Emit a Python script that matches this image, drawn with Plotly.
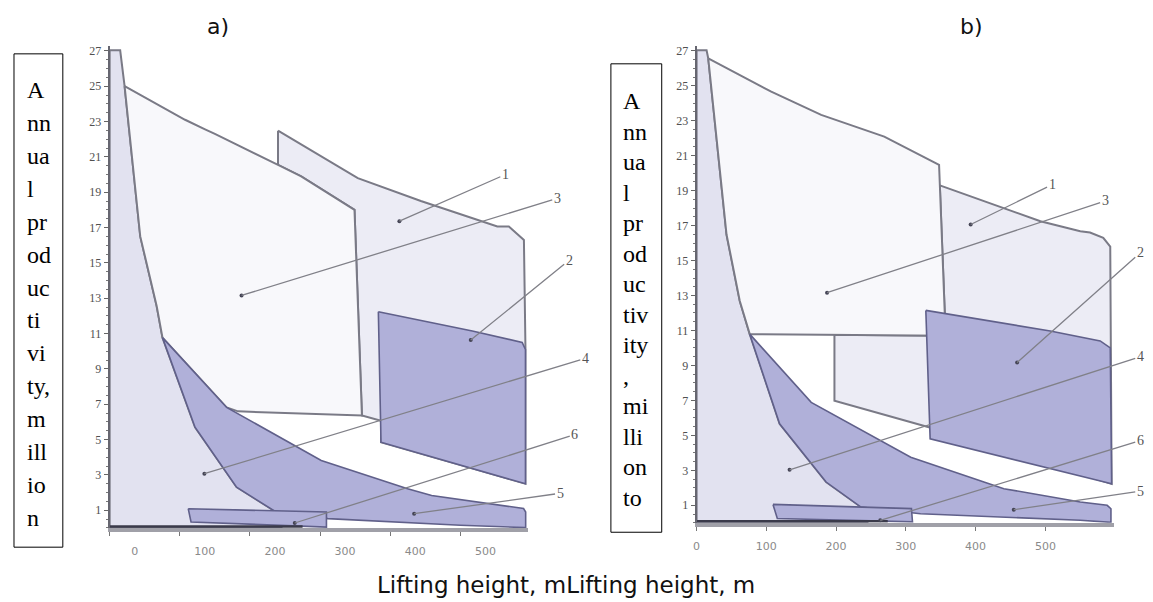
import plotly.graph_objects as go

# page body has an 8px default margin; figure sized to fit the 1153x602 window exactly
OFF = 8
W, H = 1153 - OFF, 602 - OFF

# ---------------- data: panel a ----------------
reg4_a_x = [0, 0, 15, 21.3, 43.6, 67, 75.3, 121.7, 180.9, 235, 245, 245, 0]
reg4_a_y = [0, 27.03, 27.03, 25, 16.5, 12.56, 10.77, 5.7, 2.31, 0.96, 0.9, 0, 0]

reg1_a_x = [240, 353.7, 443.6, 524, 552.6, 569, 590.5, 592.7, 592.7, 386.8, 386.8, 359.6, 349, 273, 240, 240]
reg1_a_y = [22.48, 19.8, 18.5, 17.41, 17.06, 17.06, 16.3, 10.2, 2.5, 4.85, 6.07, 6.36, 18.0, 19.9, 20.55, 22.48]

reg3_a_x = [21.3, 107.5, 136, 150, 240, 273, 349, 359.6, 183, 166.7, 75.3, 67, 43.6, 21.3]
reg3_a_y = [25, 23.1, 22.56, 22.3, 20.55, 19.9, 18.0, 6.36, 6.6, 6.82, 10.77, 12.56, 16.5, 25]

band_a_x = [75.3, 166.7, 301.6, 424.7, 459, 552.6, 590, 593, 593, 500, 400, 311, 235, 180.9, 121.7, 75.3]
band_a_y = [10.77, 6.82, 3.82, 2.22, 1.84, 1.3, 1.1, 0.9, 0.02, 0.15, 0.35, 0.53, 0.96, 2.31, 5.7, 10.77]

box2_a_x = [383, 386.8, 592.7, 592.7, 588, 517, 383]
box2_a_y = [12.24, 4.85, 2.5, 10.1, 10.5, 11.15, 12.24]

reg6_a_x = [112, 116, 309, 309, 112]
reg6_a_y = [1.09, 0.34, 0.05, 0.9, 1.09]

base_a_x = [0, 275]
base_a_y = [0.08, 0.08]

labels_a = ["1", "3", "2", "4", "6", "5"]
dot_a_x = [413, 188, 514.7, 135, 263.8, 434]
dot_a_y = [17.36, 13.16, 10.63, 3.07, 0.28, 0.81]
lab_a_x = [564, 638, 655, 678, 663, 642]
lab_a_y = [20.0, 18.65, 15.15, 9.6, 5.28, 1.96]

# ---------------- data: panel b ----------------
reg4_b_x = [0, 0, 14.3, 16.7, 42.9, 61.9, 76.2, 119, 185.7, 235.7, 245, 245, 0]
reg4_b_y = [0, 27.03, 27.03, 26.56, 16.49, 12.69, 10.79, 5.66, 2.33, 0.9, 0.88, 0, 0]

reg1_b_x = [348.7, 440.5, 492.9, 550, 564, 583, 593, 595, 333, 197.6, 197.6, 357, 348.7]
reg1_b_y = [19.3, 18.0, 17.25, 16.68, 16.6, 16.3, 15.8, 2.23, 5.46, 6.98, 10.75, 10.7, 19.3]

reg3_b_x = [16.7, 107, 178.6, 269, 347.6, 357, 76.2, 61.9, 42.9, 16.7]
reg3_b_y = [26.56, 24.66, 23.33, 22.09, 20.48, 10.7, 10.79, 12.69, 16.49, 26.56]

band_b_x = [76.2, 164.3, 307, 440.5, 550, 588.6, 594, 594, 550, 450, 321, 235.7, 185.7, 119, 76.2]
band_b_y = [10.79, 6.89, 3.75, 1.95, 1.19, 1.0, 0.8, 0.02, 0.14, 0.3, 0.52, 0.9, 2.33, 5.66, 10.79]

box2_b_x = [328.6, 334.8, 595, 593, 578.6, 507, 328.6]
box2_b_y = [12.15, 4.8, 2.23, 10.0, 10.4, 10.97, 12.15]

reg6_b_x = [109.5, 115.7, 309.5, 308, 109.5]
reg6_b_y = [1.05, 0.24, 0.05, 0.81, 1.05]

base_b_x = [0, 274]
base_b_y = [0.08, 0.08]

labels_b = ["1", "3", "2", "4", "6", "5"]
dot_b_x = [392.9, 187, 459.5, 133.3, 263.3, 454.7]
dot_b_y = [17.06, 13.16, 9.17, 3.03, 0.14, 0.75]
lab_b_x = [509.6, 585.7, 636, 636, 636, 636]
lab_b_y = [19.34, 18.41, 15.45, 9.5, 4.7, 1.81]

# ---------------- axis ticks & texts ----------------
x_ticks = [0, 100, 200, 300, 400, 500]
x_tick_text = ["0", "100", "200", "300", "400", "500"]
y_ticks = [1, 3, 5, 7, 9, 11, 13, 15, 17, 19, 21, 23, 25, 27]
y_tick_text = [str(v) for v in y_ticks]

panel_titles = ["a)", "b)"]
x_title = "Lifting height, mLifting height, m"
ylab_a_lines = ["A", "nn", "ua", "l", "pr", "od", "uc", "ti", "vi", "ty,", "m", "ill", "io", "n"]
ylab_b_lines = ["A", "nn", "ua", "l", "pr", "od", "uc", "tiv", "ity", ",", "mi", "lli", "on", "to"]

# ---------------- styles ----------------
C_LIGHT4 = "#e2e2f0"
C_LIGHT1 = "#ececf5"
C_WHITE3 = "#f8f8fb"
C_DARK = "#b0b0d9"
C_EDGE = "#7a7a86"
C_DEDGE = "#60608a"


def fx(px):
    return (px - OFF) / W


def fy(py):
    return 1 - (py - OFF) / H


fig = go.Figure()


def poly(x, y, fill, edge, width, xa, ya):
    fig.add_trace(go.Scatter(x=x, y=y, mode="lines", fill="toself", fillcolor=fill,
                             line=dict(color=edge, width=width), xaxis=xa, yaxis=ya,
                             hoverinfo="skip", showlegend=False))


for (xa, ya, r4, r1, r3, bd, b2, r6, bs, dots) in [
    ("x", "y", (reg4_a_x, reg4_a_y), (reg1_a_x, reg1_a_y), (reg3_a_x, reg3_a_y),
     (band_a_x, band_a_y), (box2_a_x, box2_a_y), (reg6_a_x, reg6_a_y), (base_a_x, base_a_y),
     (dot_a_x, dot_a_y)),
    ("x2", "y2", (reg4_b_x, reg4_b_y), (reg1_b_x, reg1_b_y), (reg3_b_x, reg3_b_y),
     (band_b_x, band_b_y), (box2_b_x, box2_b_y), (reg6_b_x, reg6_b_y), (base_b_x, base_b_y),
     (dot_b_x, dot_b_y)),
]:
    poly(*r4, C_LIGHT4, C_EDGE, 2, xa, ya)
    poly(*r1, C_LIGHT1, C_EDGE, 2, xa, ya)
    poly(*r3, C_WHITE3, C_EDGE, 2, xa, ya)
    poly(*bd, C_DARK, C_DEDGE, 1.6, xa, ya)
    poly(*b2, C_DARK, C_DEDGE, 1.6, xa, ya)
    poly(*r6, C_DARK, C_DEDGE, 1.6, xa, ya)
    fig.add_trace(go.Scatter(x=bs[0], y=bs[1], mode="lines", line=dict(color="#3a3a4a", width=2.5),
                             xaxis=xa, yaxis=ya, hoverinfo="skip", showlegend=False))
    fig.add_trace(go.Scatter(x=dots[0], y=dots[1], mode="markers",
                             marker=dict(color="#444455", size=4), xaxis=xa, yaxis=ya,
                             hoverinfo="skip", showlegend=False, cliponaxis=False))

annotations = []
for labels, dx, dy, lx, ly, xr, yr in [
    (labels_a, dot_a_x, dot_a_y, lab_a_x, lab_a_y, "x", "y"),
    (labels_b, dot_b_x, dot_b_y, lab_b_x, lab_b_y, "x2", "y2"),
]:
    for t, x0, y0, x1, y1 in zip(labels, dx, dy, lx, ly):
        annotations.append(dict(x=x0, y=y0, xref=xr, yref=yr, ax=x1, ay=y1, axref=xr, ayref=yr,
                                text=t, showarrow=True, arrowhead=0, arrowwidth=1.3,
                                arrowcolor="#808088", standoff=0,
                                font=dict(family="Liberation Serif", size=14, color="#555")))

# boxed vertical y-axis labels
box_specs = [
    (ylab_a_lines, 10, 59, 52, 547, 21.5, 88.5, 33.0),
    (ylab_b_lines, 609, 660, 62, 532, 619.5, 99.5, 30.6),
]
shapes = []
for lines, x0, x1, y0, y1, tx, ty0, step in box_specs:
    shapes.append(dict(type="rect", xref="paper", yref="paper", x0=fx(x0), x1=fx(x1),
                       y0=fy(y1), y1=fy(y0), line=dict(color="#000", width=1)))
    for i, s in enumerate(lines):
        annotations.append(dict(x=fx(tx), y=fy(ty0 + step * i), xref="paper", yref="paper",
                                xanchor="left", yanchor="middle", showarrow=False, text=s,
                                font=dict(family="Liberation Serif", size=24, color="#000")))

for t, cx in zip(panel_titles, [214.6, 970.7]):
    annotations.append(dict(x=fx(cx), y=fy(25), xref="paper", yref="paper", showarrow=False,
                            xanchor="center", yanchor="middle", text=t,
                            font=dict(family="DejaVu Sans", size=22, color="#111")))
annotations.append(dict(x=fx(564), y=fy(585), xref="paper", yref="paper", showarrow=False,
                        xanchor="center", yanchor="middle", text=x_title,
                        font=dict(family="DejaVu Sans", size=23, color="#111")))


def xaxis_style(dom, shift, rng, anchor):
    return dict(domain=dom, range=rng, anchor=anchor, showline=True, linecolor="#a0a0a8",
                linewidth=4, ticks="outside", ticklen=4, tickcolor="#777", tickwidth=1,
                tickmode="array", tickvals=x_ticks, ticktext=x_tick_text,
                tickfont=dict(family="DejaVu Sans", size=11, color="#8a8a8a"),
                ticklabelshift=shift, ticklabelstandoff=6,
                showgrid=False, zeroline=False, fixedrange=True)


def yaxis_style(dom, anchor):
    return dict(domain=dom, range=[0, 27.3], anchor=anchor, showline=True, linecolor="#666670",
                linewidth=2, ticks="outside", ticklen=4, tickcolor="#666", tickwidth=1,
                tickmode="array", tickvals=y_ticks, ticktext=y_tick_text,
                tickfont=dict(family="Liberation Serif", size=12, color="#505050"),
                minor=dict(tickmode="linear", tick0=0, dtick=0.5, ticks="outside", ticklen=2,
                           tickcolor="#777"),
                showgrid=False, zeroline=False, fixedrange=True)


xa_dom = [fx(106), fx(106 + 596 * 0.704)]
xb_dom = [fx(695), fx(695 + 598 * 0.70)]
ya_dom = [fy(527.7), fy(527.7 - 27.3 * 17.73)]
yb_dom = [fy(522.5), fy(522.5 - 27.3 * 17.54)]

fig.update_layout(
    width=W, height=H, margin=dict(l=0, r=0, t=0, b=0),
    paper_bgcolor="white", plot_bgcolor="white", showlegend=False,
    xaxis=xaxis_style(xa_dom, 25, [0, 596], "y"), yaxis=yaxis_style(ya_dom, "x"),
    xaxis2=xaxis_style(xb_dom, 0, [0, 598], "y2"), yaxis2=yaxis_style(yb_dom, "x2"),
    annotations=annotations, shapes=shapes,
)

fig.write_html("out.html")
